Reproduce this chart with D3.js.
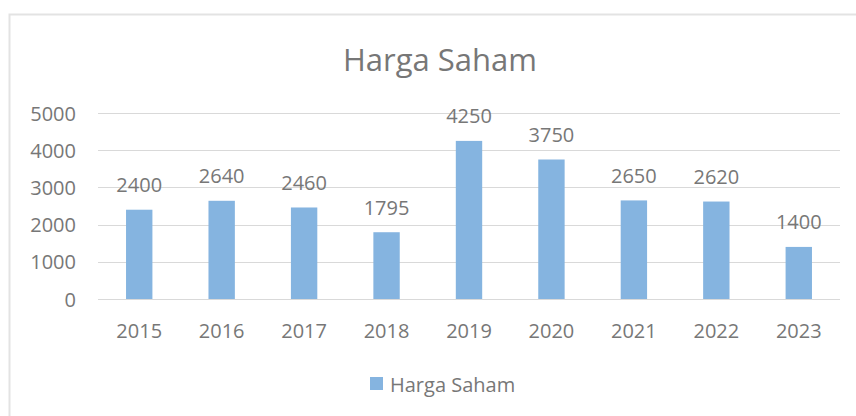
<!DOCTYPE html>
<html lang="en">
<head>
<meta charset="UTF-8" />
<title>Harga Saham</title>
<script src="https://d3js.org/d3.v7.min.js"></script>
<style>
  body { margin: 0; background: #fff; }
  #chart { width: 856px; height: 416px; }
  text { font-family: "Open Sans", "Noto Sans", sans-serif; fill: #777; }
</style>
</head>
<body>
<div id="chart"></div>
<script>
  const years = ['2015', '2016', '2017', '2018', '2019', '2020', '2021', '2022', '2023'];
  const hargaSaham = [2400, 2640, 2460, 1795, 4250, 3750, 2650, 2620, 1400];
  const yTicks = [0, 1000, 2000, 3000, 4000, 5000];

  const W = 856, H = 416;
  const plot = { left: 98, right: 840, top: 113, bottom: 299 };

  const svg = d3.select('#chart').append('svg')
    .attr('width', W).attr('height', H);

  // chart frame (only left and top edges visible)
  svg.append('rect')
    .attr('x', 9.5).attr('y', 14.5).attr('width', 870).attr('height', 420)
    .attr('fill', 'none').attr('stroke', '#e3e3e3').attr('stroke-width', 2);

  const x = d3.scaleBand().domain(years).range([plot.left, plot.right]).paddingInner(0.68).paddingOuter(0.34);
  const y = d3.scaleLinear().domain([0, 5000]).range([plot.bottom, plot.top]);

  // gridlines
  svg.append('g').selectAll('line').data(yTicks).join('line')
    .attr('x1', plot.left).attr('x2', plot.right)
    .attr('y1', d => Math.round(y(d)) + 0.5).attr('y2', d => Math.round(y(d)) + 0.5)
    .attr('stroke', '#d9d9d9').attr('stroke-width', 1);

  // y axis labels
  svg.append('g').selectAll('text').data(yTicks).join('text')
    .attr('x', 76).attr('y', d => y(d))
    .attr('text-anchor', 'end').attr('dominant-baseline', 'central')
    .style('font-size', '20px')
    .text(d => d);

  // bars
  svg.append('g').selectAll('rect').data(hargaSaham).join('rect')
    .attr('x', (d, i) => x(years[i]))
    .attr('width', x.bandwidth())
    .attr('y', d => y(d))
    .attr('height', d => y(0) - y(d))
    .attr('fill', '#85b4e0');

  // value labels
  svg.append('g').selectAll('text').data(hargaSaham).join('text')
    .attr('x', (d, i) => x(years[i]) + x.bandwidth() / 2)
    .attr('y', d => y(d) - 25)
    .attr('text-anchor', 'middle').attr('dominant-baseline', 'central')
    .style('font-size', '20px')
    .text(d => d);

  // x axis labels
  svg.append('g').selectAll('text').data(years).join('text')
    .attr('x', d => x(d) + x.bandwidth() / 2)
    .attr('y', 330)
    .attr('text-anchor', 'middle').attr('dominant-baseline', 'central')
    .style('font-size', '20px')
    .text(d => d);

  // title
  svg.append('text')
    .attr('x', 440).attr('y', 59)
    .attr('text-anchor', 'middle').attr('dominant-baseline', 'central')
    .style('font-size', '31px')
    .text('Harga Saham');

  // legend
  const lg = svg.append('g').attr('transform', 'translate(370,377)');
  lg.append('rect').attr('width', 13).attr('height', 13).attr('fill', '#85b4e0');
  lg.append('text').attr('x', 20).attr('y', 7)
    .attr('dominant-baseline', 'central')
    .style('font-size', '20px')
    .text('Harga Saham');
</script>
</body>
</html>
